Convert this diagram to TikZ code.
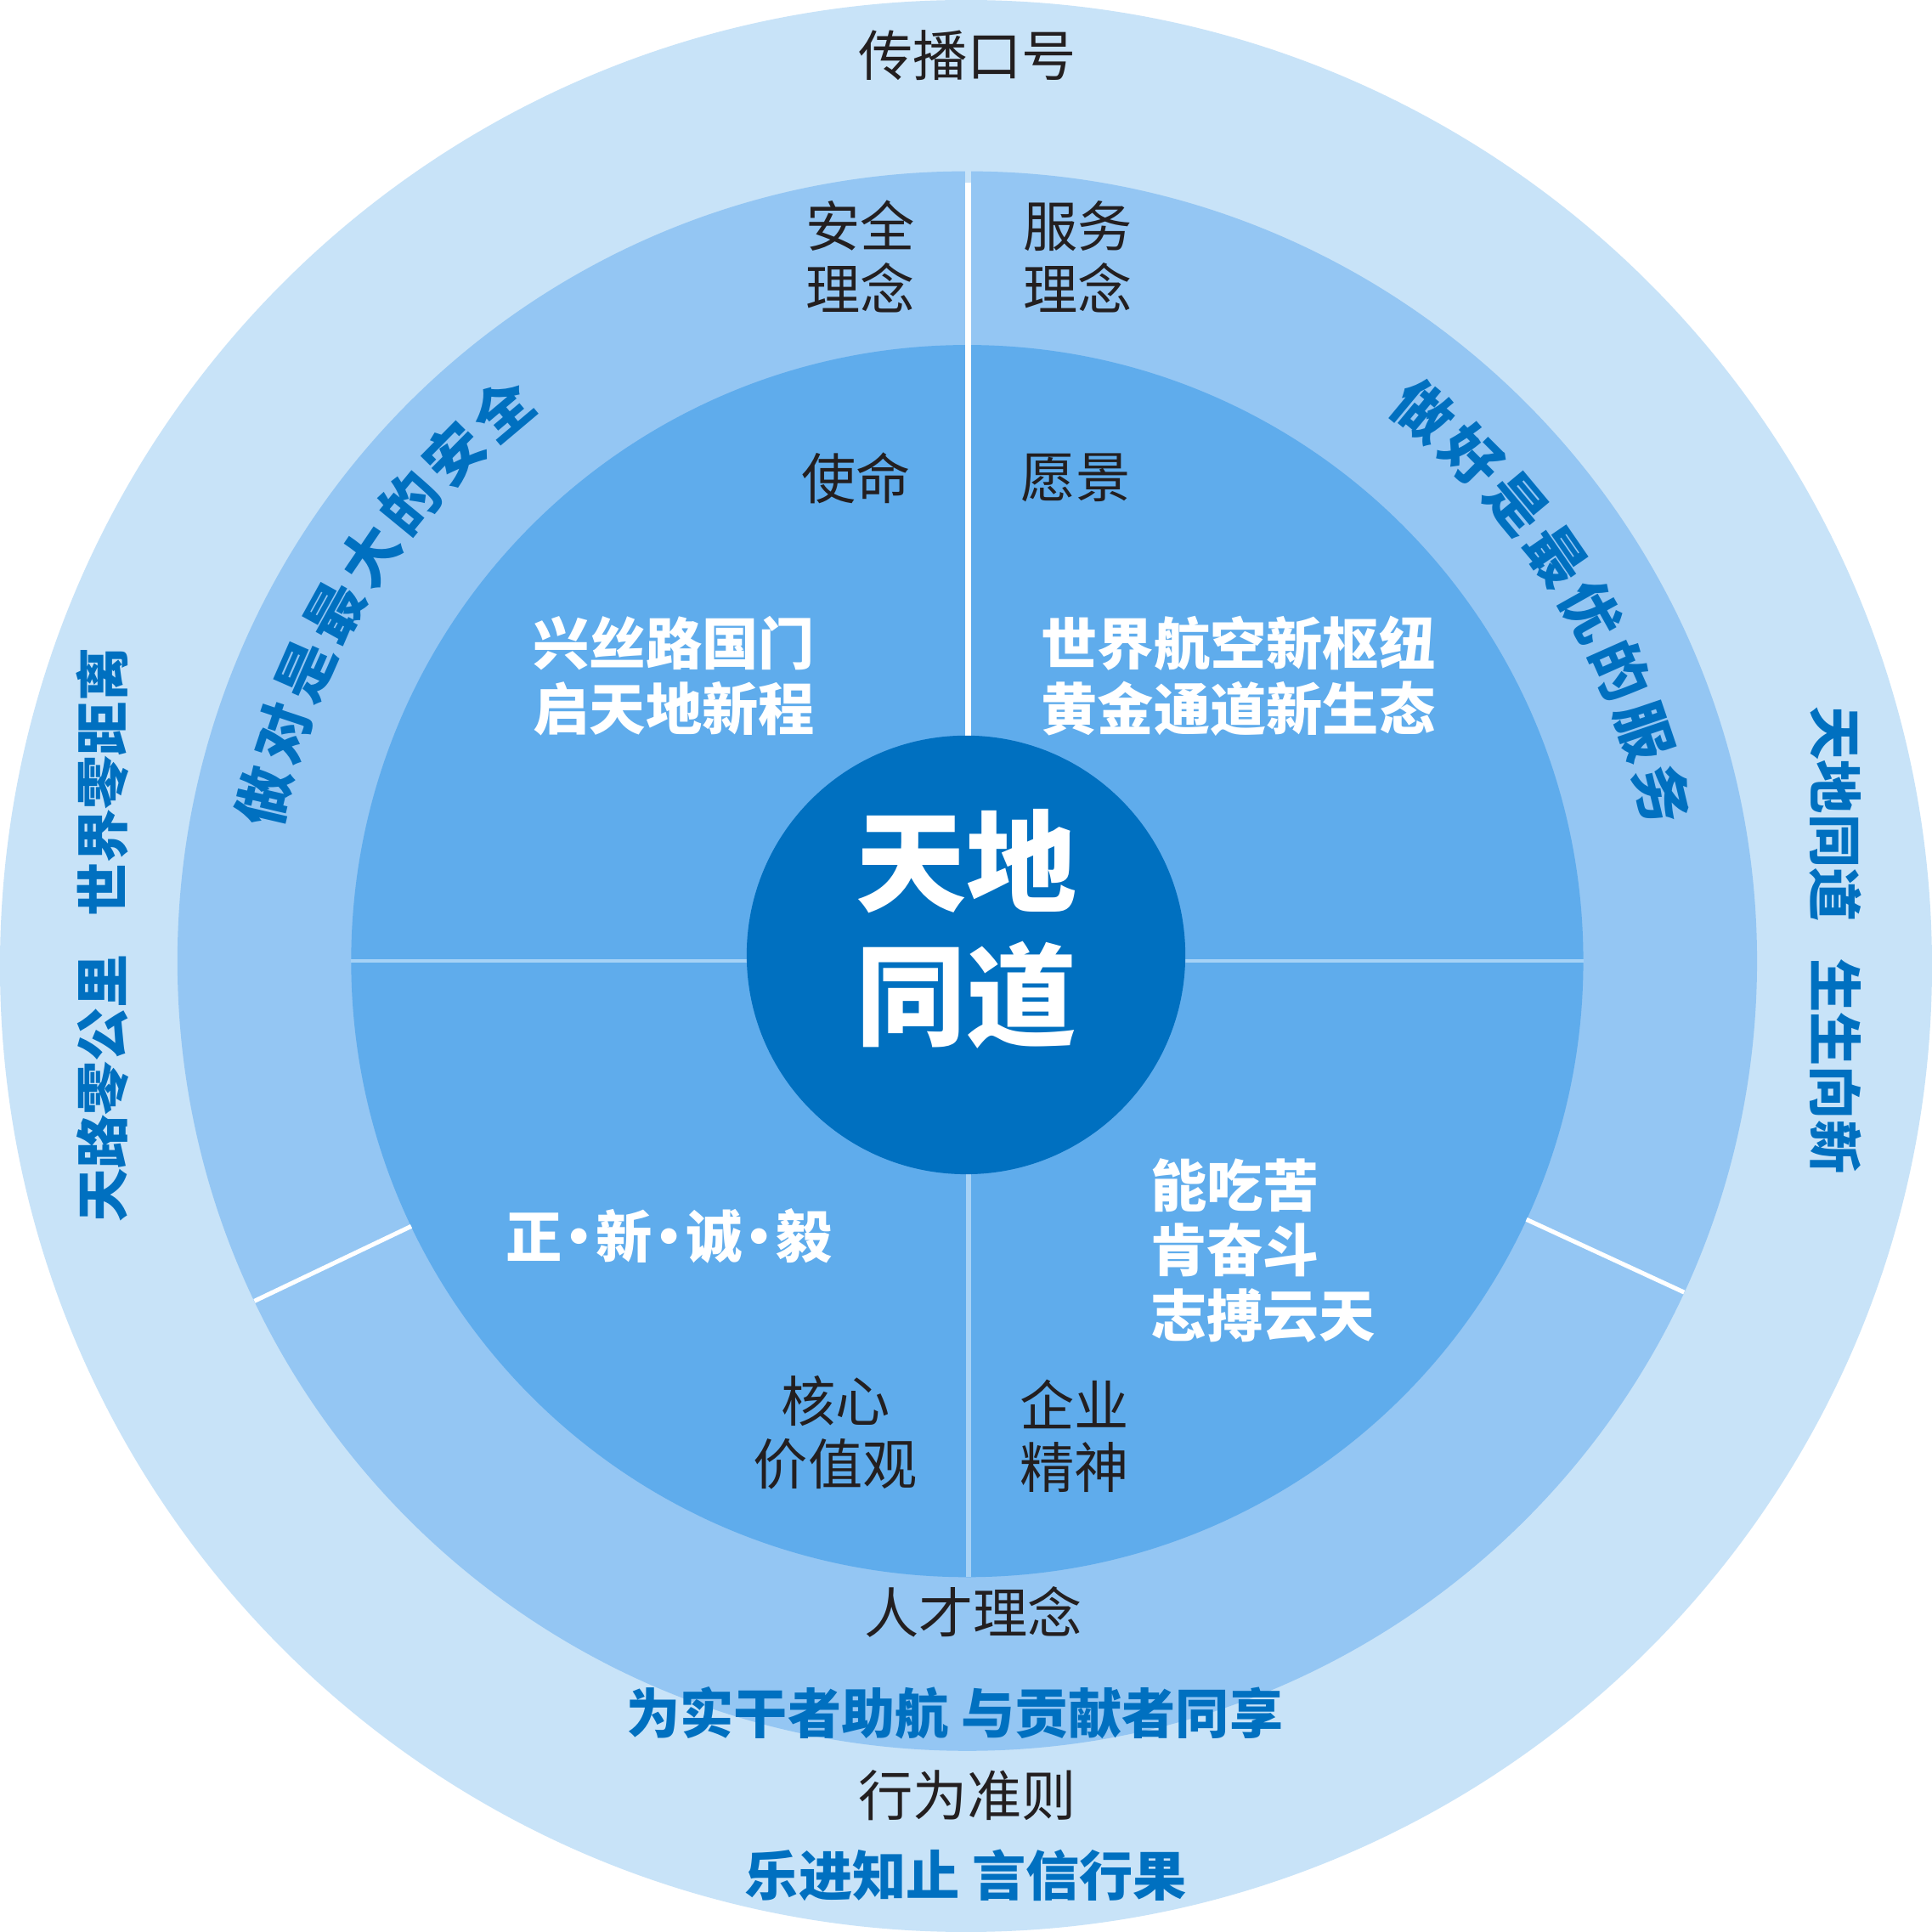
\documentclass[tikz,border=0pt]{standalone}
\usepackage{fontspec}
\newfontfamily\cjk{Noto Sans CJK SC}
\definecolor{outerc}{HTML}{C8E3F8}
\definecolor{midc}{HTML}{94C6F3}
\definecolor{innerc}{HTML}{5FACEC}
\definecolor{corec}{HTML}{0070C0}
\definecolor{txtblue}{HTML}{0070C0}
\definecolor{txtblack}{HTML}{231F20}
\definecolor{sepc}{HTML}{A6D2F6}
\newcommand\mdot{\makebox[7.8pt]{·}}
\begin{document}
\begin{tikzpicture}[x=0.1mm,y=0.1mm,
  lbl/.style={font=\cjk\fontsize{12.6pt}{14.5pt}\selectfont, text=txtblack, inner sep=0pt, align=center},
  wht/.style={font=\cjk\bfseries\fontsize{13pt}{15.1pt}\selectfont, text=white, inner sep=0pt, align=center},
  slogan/.style={font=\cjk\bfseries\fontsize{12.4pt}{14pt}\selectfont, text=txtblue, inner sep=0pt},
  arcch/.style={font=\cjk\bfseries\fontsize{13.4pt}{14pt}\selectfont, text=txtblue, inner sep=0pt},
  corelbl/.style={font=\cjk\bfseries\fontsize{25.5pt}{30.7pt}\selectfont, text=white, inner sep=0pt, align=center}
]
\useasboundingbox (0,0) rectangle (1568,1568);
\fill[white] (0,0) rectangle (1568,1568);
\coordinate (C) at (785,788);
% rings
\fill[outerc] (784,784) circle (784);
\fill[midc] (C) circle (641);
\fill[innerc] (C) circle (500);
% separators
\draw[outerc, line width=1.4pt] (786,1432) -- (786,1420);
\draw[white, line width=1.4pt] (786,1420) -- (786,900);
\draw[sepc, line width=1.1pt] (786,700) -- (786,288);
\draw[sepc, line width=0.9pt] (285,788) -- (1285,788);
\draw[white, line width=1pt] ([shift={(205.5:500)}]C) -- ([shift={(205.5:641)}]C);
\draw[white, line width=1pt] ([shift={(335.2:500)}]C) -- ([shift={(335.2:641)}]C);
% core
\fill[corec] (784,793) circle (178);
\node[corelbl] (core) at (784,814) {天地\\同道};
% black labels
\node[lbl] (slogan) at (785,1523) {传播口号};
\node[lbl] (safety) at (698,1359.5) {安全\\理念};
\node[lbl] (service) at (875,1359.5) {服务\\理念};
\node[lbl] (mission) at (695,1180) {使命};
\node[lbl] (vision) at (873,1180) {愿景};
\node[lbl] (values) at (678,405.5) {核心\\价值观};
\node[lbl] (spirit) at (872,402.5) {企业\\精神};
\node[lbl] (talent) at (790,260) {人才理念};
\node[lbl] (conduct) at (785,111) {行为准则};
% white labels
\node[wht] (missiontxt) at (547,1019.5) {兴丝路国门\\启天地新程};
\node[wht] (visiontxt) at (1005,1019.5) {世界航空新枢纽\\黄金通道新生态};
\node[wht] (valuestxt) at (543,565) {正\mdot 新\mdot 诚\mdot 毅};
\node[wht, anchor=west, align=left] (spirittxt) at (933,553) {能吃苦\\肯奋斗\\志搏云天};
% blue slogans
\node[slogan] (talenttxt) at (775,178) {为实干者助航 与贡献者同享};
\node[slogan] (conducttxt) at (784,46) {乐进知止 言信行果};
\node[slogan, rotate=90] (lefttxt) at (83,809) {天路零公里\hspace{0.7em}世界零距离};
\node[slogan, rotate=-90] (righttxt) at (1490,805) {天地同道\hspace{0.7em}生生向新};
% arc texts
\foreach \ch [count=\i from 0] in {做,对,是,最,大,的,安,全} {
  \pgfmathsetmacro\ang{166.8-\i*5.24}
  \pgfmathsetmacro\rot{\ang-90}
  \node[arcch, rotate=\rot] (la\i) at ([shift={(\ang:586)}]C) {\ch};
}
\foreach \ch [count=\i from 0] in {做,好,是,最,优,的,服,务} {
  \pgfmathsetmacro\ang{50.3-\i*5.26}
  \pgfmathsetmacro\rot{\ang-90}
  \node[arcch, rotate=\rot] (ra\i) at ([shift={(\ang:580)}]C) {\ch};
}
\end{tikzpicture}
\end{document}
